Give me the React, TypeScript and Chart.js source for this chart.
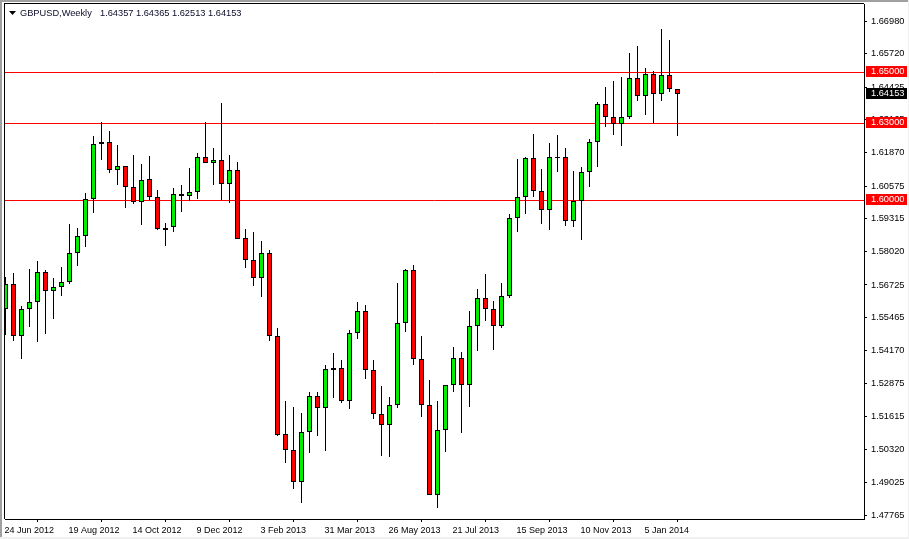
import { useEffect, useRef } from "react"
import { Chart, registerables, type Plugin } from "chart.js"

Chart.register(...registerables)

// weekly candles, one entry per week from 24 Jun 2012
const opens = [
  1.55777, 1.56749, 1.54752, 1.55777, 1.56049, 1.57216, 1.56477, 1.56633, 1.56827, 1.57956,
  1.58617, 1.60057, 1.62197, 1.62275, 1.61185, 1.61341, 1.60524, 1.5994, 1.60835, 1.60135,
  1.58945, 1.58967, 1.60251, 1.60174, 1.60329, 1.61691, 1.61458, 1.61574, 1.60641, 1.61186,
  1.5854, 1.57684, 1.56983, 1.57956, 1.54727, 1.50913, 1.50291, 1.49046, 1.50991, 1.52392,
  1.51925, 1.5348, 1.53482, 1.52198, 1.54843, 1.55699, 1.53404, 1.51692, 1.51264, 1.52042,
  1.55232, 1.57295, 1.53832, 1.52042, 1.4854, 1.51069, 1.5282, 1.5387, 1.52819, 1.55116,
  1.56205, 1.55777, 1.55116, 1.56283, 1.59318, 1.60135, 1.61652, 1.60368, 1.59629, 1.617,
  1.61691, 1.59201, 1.59979, 1.61108, 1.62275, 1.63754, 1.63248, 1.62975, 1.63248, 1.64765,
  1.64065, 1.64921, 1.64143, 1.64882, 1.64357,
]
const highs = [
  1.57022, 1.57177, 1.55893, 1.57333, 1.57644, 1.57294, 1.56983, 1.57411, 1.59084, 1.58928,
  1.6029, 1.62508, 1.63053, 1.62703, 1.62158, 1.61341, 1.61769, 1.61419, 1.6173, 1.60407,
  1.59123, 1.60485, 1.60602, 1.61263, 1.61847, 1.63053, 1.62041, 1.63792, 1.61769, 1.61497,
  1.5889, 1.58773, 1.58423, 1.58073, 1.55038, 1.52198, 1.51964, 1.51731, 1.52548, 1.52548,
  1.53598, 1.54065, 1.53793, 1.5496, 1.5605, 1.55933, 1.53793, 1.52781, 1.52353, 1.56789,
  1.57334, 1.57489, 1.54727, 1.53015, 1.52198, 1.5282, 1.54299, 1.54104, 1.55699, 1.56555,
  1.57139, 1.56088, 1.56789, 1.59474, 1.61614, 1.61691, 1.62586, 1.61224, 1.62236, 1.62547,
  1.62042, 1.61147, 1.61302, 1.62392, 1.63844, 1.64428, 1.64661, 1.64817, 1.65738, 1.6601,
  1.65154, 1.65038, 1.66672, 1.66244, 1.64365,
]
const lows = [
  1.54778, 1.54558, 1.53857, 1.55102, 1.54519, 1.5483, 1.55414, 1.56309, 1.56749, 1.57476,
  1.58215, 1.59538, 1.616, 1.61094, 1.60628, 1.59733, 1.59862, 1.59071, 1.60018, 1.58851,
  1.58254, 1.58799, 1.59577, 1.59979, 1.60083, 1.61458, 1.60628, 1.60044, 1.59902, 1.58501,
  1.57398, 1.56698, 1.5627, 1.54558, 1.50862, 1.49811, 1.48799, 1.48255, 1.502, 1.50862,
  1.50278, 1.5234, 1.5212, 1.51912, 1.54636, 1.53079, 1.51523, 1.50083, 1.50044, 1.51925,
  1.54908, 1.53624, 1.51601, 1.4854, 1.4806, 1.50239, 1.52574, 1.50978, 1.51989, 1.54169,
  1.55336, 1.54208, 1.55038, 1.56231, 1.58799, 1.59499, 1.60161, 1.5911, 1.58877, 1.61134,
  1.59033, 1.58994, 1.58488, 1.6055, 1.61302, 1.62885, 1.62573, 1.62132, 1.63196, 1.63896,
  1.63339, 1.6304, 1.63896, 1.64246, 1.62513,
]
const closes = [
  1.56749, 1.54752, 1.55777, 1.56049, 1.57216, 1.56477, 1.56633, 1.56827, 1.57956, 1.58617,
  1.60057, 1.62197, 1.62275, 1.61185, 1.61341, 1.60524, 1.5994, 1.60796, 1.60135, 1.5889,
  1.5887, 1.60251, 1.60174, 1.60329, 1.61691, 1.61458, 1.61574, 1.60641, 1.61186, 1.58501,
  1.57684, 1.56983, 1.57956, 1.54727, 1.50901, 1.50291, 1.49046, 1.50991, 1.52392, 1.51925,
  1.53443, 1.5341, 1.52198, 1.54843, 1.55699, 1.53404, 1.51692, 1.51264, 1.52042, 1.55232,
  1.57295, 1.53832, 1.52042, 1.4854, 1.51069, 1.5282, 1.53871, 1.52819, 1.55115, 1.56205,
  1.55777, 1.55116, 1.56283, 1.59318, 1.60135, 1.61652, 1.60368, 1.59629, 1.61691, 1.61665,
  1.59201, 1.59979, 1.61108, 1.62275, 1.63754, 1.63248, 1.62975, 1.63248, 1.64765, 1.64065,
  1.64921, 1.64143, 1.64882, 1.64337, 1.64153,
]

const dateLabels = [
  "24 Jun 2012", "19 Aug 2012", "14 Oct 2012", "9 Dec 2012", "3 Feb 2013", "31 Mar 2013",
  "26 May 2013", "21 Jul 2013", "15 Sep 2013", "10 Nov 2013", "5 Jan 2014",
]
const weeksPerLabel = 8

const priceTicks = [
  1.6698, 1.6572, 1.64425, 1.63165, 1.6187, 1.60575, 1.59315, 1.5802, 1.56725, 1.55465, 1.5417,
  1.52875, 1.51615, 1.5032, 1.49025, 1.47765,
]
const levels = [1.65, 1.63, 1.6]
const lastClose = closes[closes.length - 1]
const symbolName = "GBPUSD,Weekly"
const lastBar = "1.64357 1.64365 1.62513 1.64153"

const FAMILY = '"Liberation Sans", sans-serif'
const X_MIN = -0.0625
const X_MAX = 107.3125

// snap bars and lines to whole pixels, MT4 draws without anti-aliasing
const snapPlugin: Plugin = {
  id: "snap",
  afterDatasetsUpdate(chart) {
    chart.data.datasets.forEach((ds: any, i) => {
      const meta = chart.getDatasetMeta(i)
      meta.data.forEach((el: any) => {
        if (ds.type === "line") {
          el.y = Math.floor(el.y) + 0.5
        } else {
          el.y = Math.round(el.y)
          el.base = Math.round(el.base)
        }
      })
    })
  },
}

// platform frame, title and the price boxes on the axis
const framePlugin: Plugin = {
  id: "frame",
  afterDraw(chart) {
    const { ctx, chartArea, scales } = chart
    ctx.save()
    ctx.fillStyle = "#000"
    ctx.fillRect(chartArea.left - 1, chartArea.top - 1, chartArea.right - chartArea.left + 1, 1)
    ctx.fillRect(chartArea.left - 1, chartArea.top - 1, 1, chartArea.bottom - chartArea.top + 1)

    ctx.fillStyle = "#a0a0a0"
    ctx.fillRect(0, 0, 2, 539)
    ctx.fillRect(0, 0, 909, 2)
    ctx.fillStyle = "#f0f0f0"
    ctx.fillRect(0, 537, 909, 2)
    ctx.fillRect(908, 0, 1, 539)

    ctx.fillStyle = "#000"
    ctx.beginPath()
    ctx.moveTo(9, 11)
    ctx.lineTo(16, 11)
    ctx.lineTo(12.5, 15)
    ctx.closePath()
    ctx.fill()

    ctx.font = `9.25px ${FAMILY}`
    ctx.textBaseline = "middle"
    ctx.textAlign = "left"
    ctx.fillStyle = "#0a0a28"
    ctx.fillText(symbolName, 20, 13)
    ctx.fillText(lastBar, 100, 13)

    const boxes = [...levels.map((v) => [v, "#ff0000"] as const), [lastClose, "#000000"] as const]
    boxes.forEach(([value, color]) => {
      const y = Math.floor(scales.y.getPixelForValue(value))
      ctx.fillStyle = color
      ctx.fillRect(866, y - 6, 41, 11)
      ctx.fillStyle = "#fff"
      ctx.fillText(value.toFixed(5), 871, y - 0.5)
    })
    ctx.restore()
  },
}

export default function App() {
  const canvasRef = useRef<HTMLCanvasElement>(null)

  useEffect(() => {
    if (!canvasRef.current) return

    const weeks = closes.map((_, i) => i)
    const chart = new Chart(canvasRef.current, {
      type: "bar",
      data: {
        datasets: [
          {
            type: "bar",
            label: "body",
            data: weeks.map((i) => ({ x: i, y: [opens[i], closes[i]] })) as any,
            backgroundColor: weeks.map((i) => (closes[i] >= opens[i] ? "#00ee00" : "#ff0000")),
            borderColor: "#000",
            borderWidth: 1,
            borderSkipped: false,
            barThickness: 5,
            inflateAmount: 0,
            grouped: false,
            order: 0,
          },
          {
            type: "bar",
            label: "wick",
            data: weeks.map((i) => ({ x: i, y: [lows[i], highs[i]] })) as any,
            backgroundColor: "#000",
            borderWidth: 0,
            barThickness: 1,
            inflateAmount: 0,
            grouped: false,
            order: 1,
          },
          ...levels.map((level) => ({
            type: "line" as const,
            label: String(level),
            data: [
              { x: X_MIN, y: level },
              { x: X_MAX, y: level },
            ],
            borderColor: "#ff0000",
            borderWidth: 1,
            pointRadius: 0,
            order: 2,
          })),
        ],
      },
      options: {
        responsive: false,
        animation: false,
        devicePixelRatio: 1,
        layout: { padding: { left: 5, top: 4, right: 0, bottom: 0 } },
        plugins: { legend: { display: false }, tooltip: { enabled: false } },
        scales: {
          x: {
            type: "linear",
            offset: false,
            min: X_MIN,
            max: X_MAX,
            afterBuildTicks: (axis) => {
              axis.ticks = dateLabels.map((_, i) => ({ value: i * weeksPerLabel }))
            },
            afterFit: (axis) => {
              axis.height = 20
            },
            grid: { drawOnChartArea: false, tickLength: 3, color: "#000" },
            border: { color: "#000" },
            ticks: {
              autoSkip: false,
              maxRotation: 0,
              align: "start",
              labelOffset: -1,
              padding: 3,
              color: "#000",
              font: { family: FAMILY, size: 9 },
              callback: (value) => dateLabels[Number(value) / weeksPerLabel],
            },
          },
          y: {
            position: "right",
            min: 1.47619,
            max: 1.67658,
            afterBuildTicks: (axis) => {
              axis.ticks = priceTicks.map((value) => ({ value }))
            },
            afterFit: (axis: any) => {
              axis.width = 45
              // labels may hang over the plot area, as on the platform
              axis.paddingTop = 0
              axis.paddingBottom = 0
            },
            grid: { drawOnChartArea: false, tickLength: 3, color: "#000" },
            border: { color: "#000" },
            ticks: {
              autoSkip: false,
              padding: 4,
              color: "#000",
              font: { family: FAMILY, size: 9.25 },
              callback: (value) => Number(value).toFixed(5),
            },
          },
        },
      },
      plugins: [snapPlugin, framePlugin],
    })

    return () => chart.destroy()
  }, [])

  return (
    <div style={{ position: "fixed", left: 0, top: 0, width: 909, height: 539, background: "#fff" }}>
      <canvas ref={canvasRef} width={909} height={539} style={{ display: "block" }} />
    </div>
  )
}
